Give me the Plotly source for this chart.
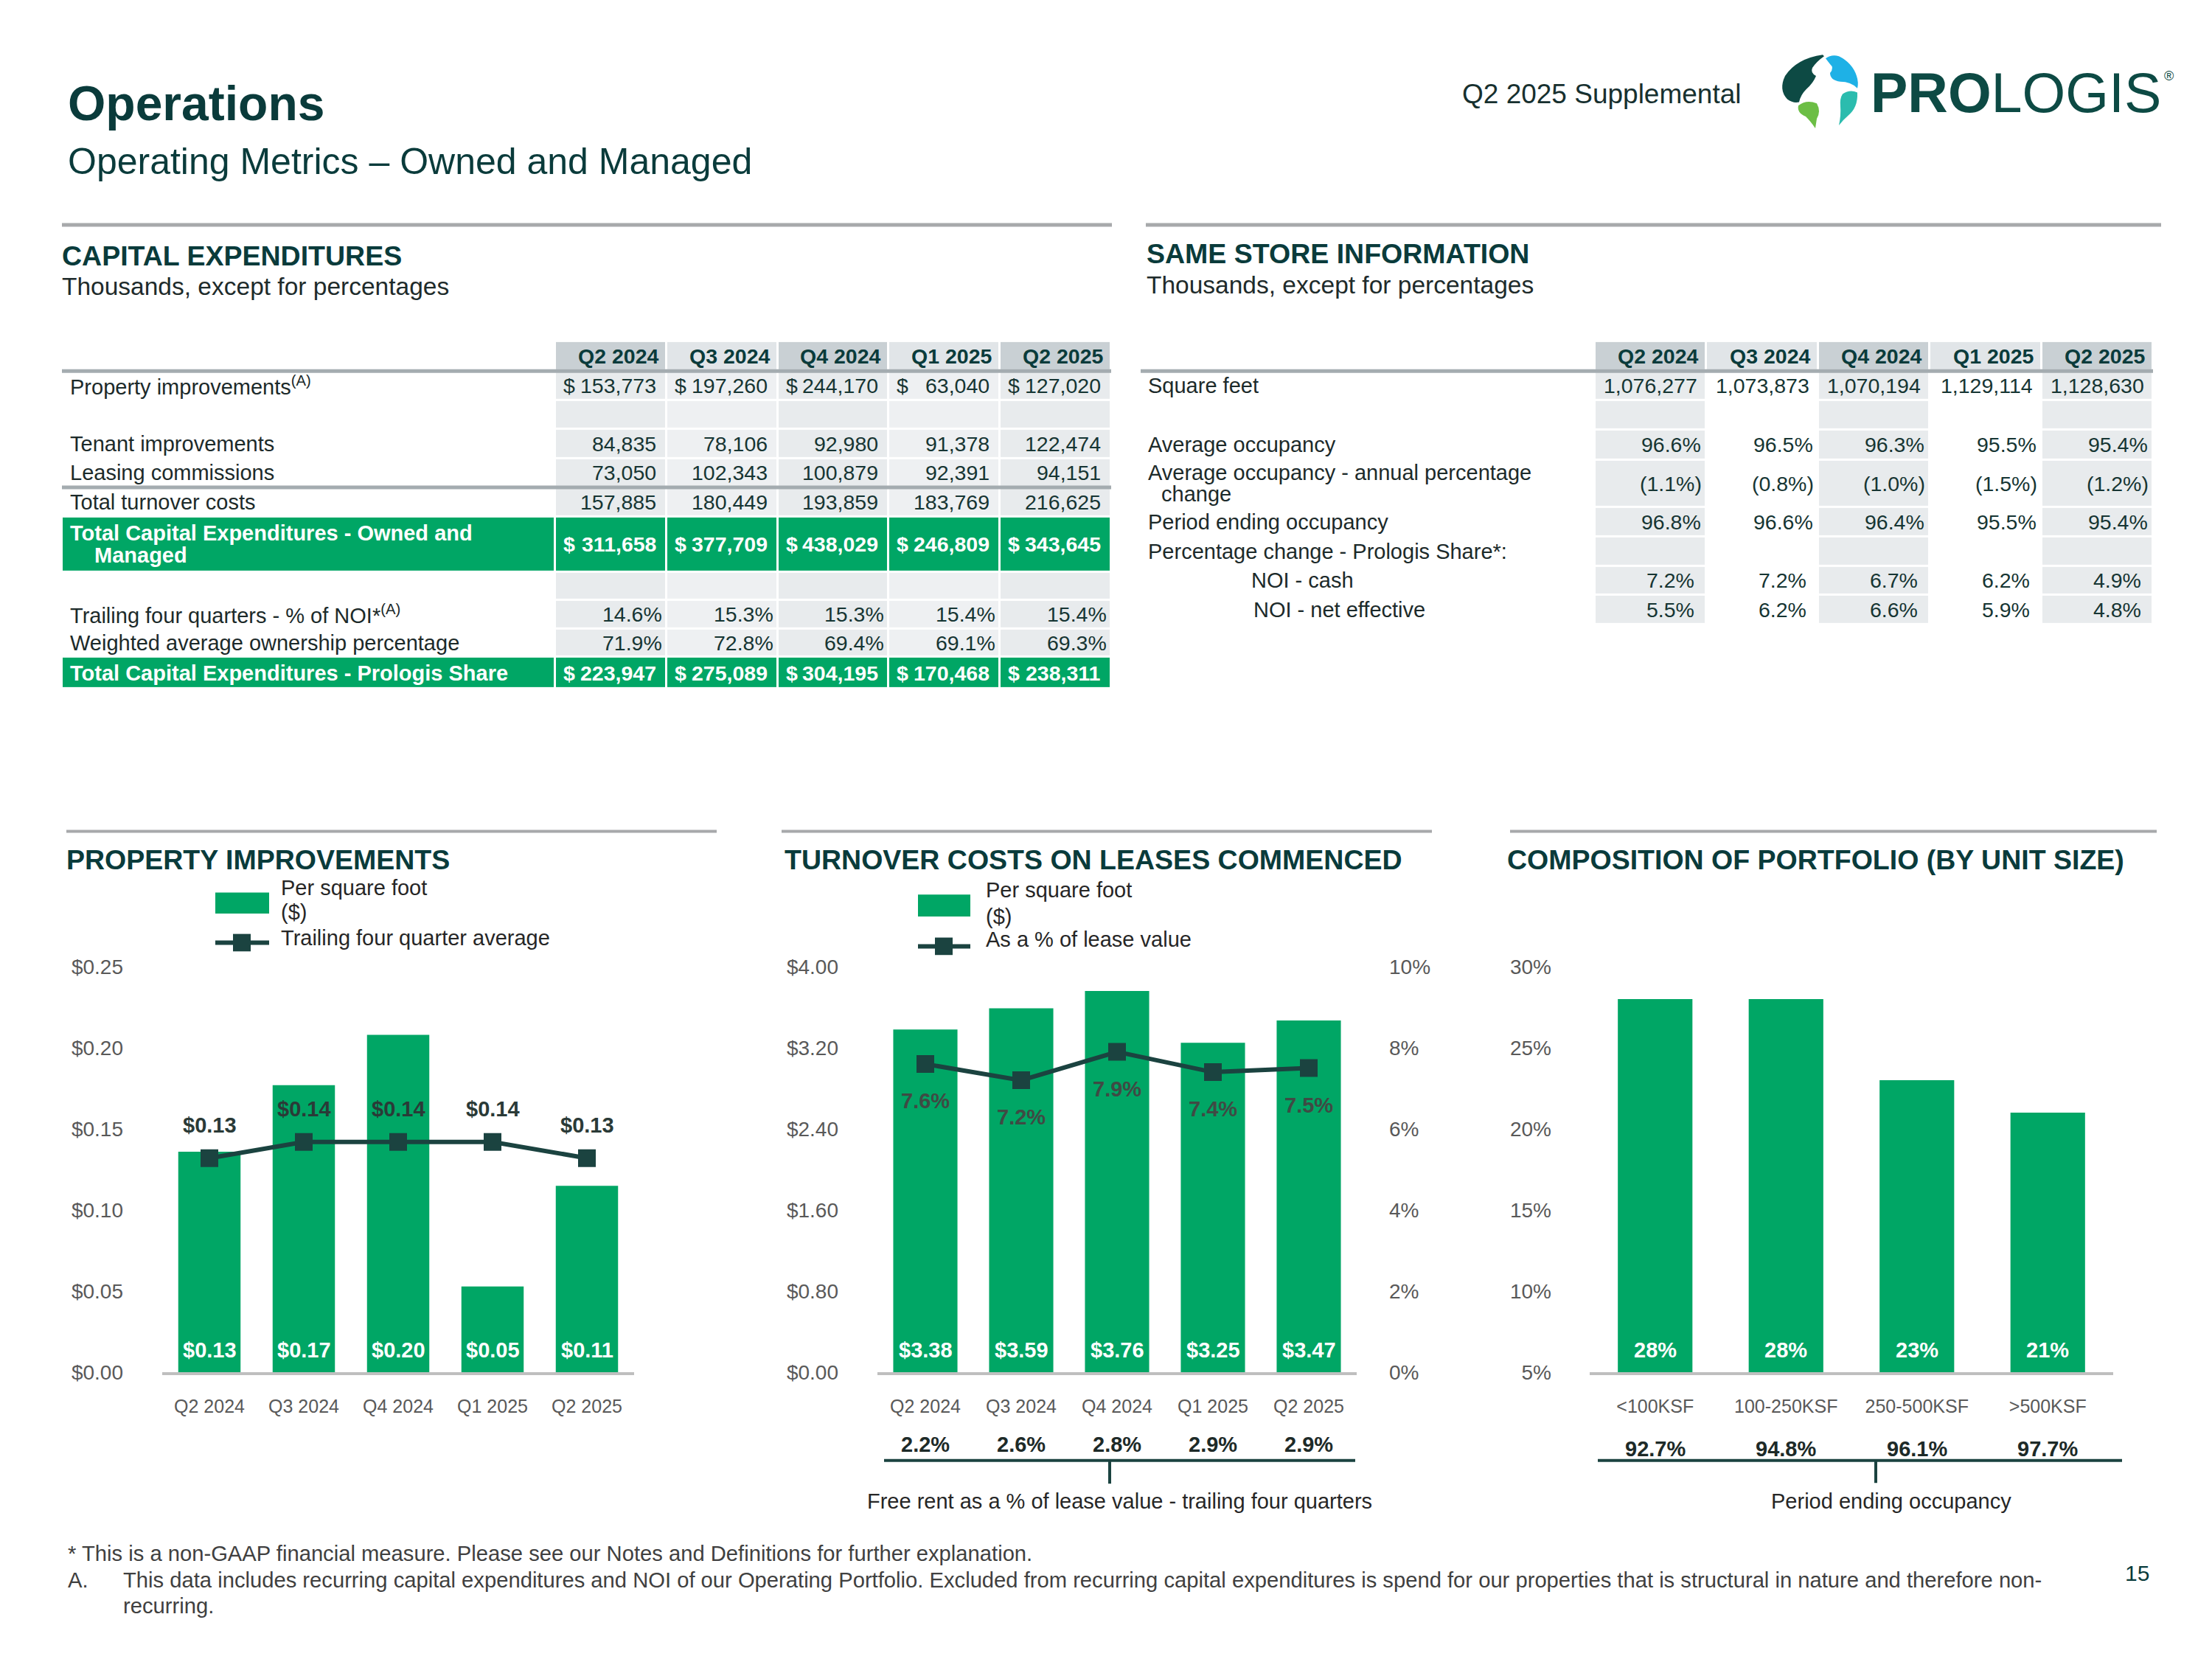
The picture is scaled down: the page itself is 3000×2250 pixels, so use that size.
import math
import plotly.graph_objects as go

# ------------------------------------------------------------------ data
quarters = ["Q2 2024", "Q3 2024", "Q4 2024", "Q1 2025", "Q2 2025"]

# Capital expenditures (thousands)
property_improvements = [153773, 197260, 244170, 63040, 127020]
tenant_improvements = [84835, 78106, 92980, 91378, 122474]
leasing_commissions = [73050, 102343, 100879, 92391, 94151]
total_turnover_costs = [157885, 180449, 193859, 183769, 216625]
total_capex_owned_managed = [311658, 377709, 438029, 246809, 343645]
trailing_pct_noi = [14.6, 15.3, 15.3, 15.4, 15.4]
weighted_avg_ownership = [71.9, 72.8, 69.4, 69.1, 69.3]
total_capex_prologis_share = [223947, 275089, 304195, 170468, 238311]

# Same store information
square_feet = [1076277, 1073873, 1070194, 1129114, 1128630]
average_occupancy = [96.6, 96.5, 96.3, 95.5, 95.4]
avg_occupancy_annual_change = [-1.1, -0.8, -1.0, -1.5, -1.2]
period_ending_occupancy = [96.8, 96.6, 96.4, 95.5, 95.4]
noi_cash_change = [7.2, 7.2, 6.7, 6.2, 4.9]
noi_net_effective_change = [5.5, 6.2, 6.6, 5.9, 4.8]

# Property improvements chart
pi_per_sf = [0.136, 0.177, 0.208, 0.053, 0.115]
pi_trailing_avg = [0.132, 0.142, 0.142, 0.142, 0.132]

# Turnover costs chart
turnover_per_sf = [3.38, 3.59, 3.76, 3.25, 3.47]
turnover_pct_lease_value = [7.6, 7.2, 7.9, 7.4, 7.5]
free_rent_pct = [2.2, 2.6, 2.8, 2.9, 2.9]

# Composition of portfolio chart
unit_sizes = ["<100KSF", "100-250KSF", "250-500KSF", ">500KSF"]
portfolio_share = [28, 28, 23, 21]
unit_occupancy = [92.7, 94.8, 96.1, 97.7]

# ------------------------------------------------------------------ style
W, H = 3000, 2250
PAGE_OFFSET = 8          # the page body margin the browser adds round the figure
FONT = "Liberation Sans, Arial, Helvetica, sans-serif"
GREEN = "#00a665"
DARK = "#1b4340"
TEAL = "#0a3b3b"
AXIS_TXT = "#595959"
BODY_TXT = "#163533"
LABEL_TXT = "#1c2a2a"
NOTE_TXT = "#404040"
RULE = "#a7a9ab"


def px(x):
    return (x - PAGE_OFFSET) / W


def py(y):
    return 1 - (y - PAGE_OFFSET) / H


annotations = []
shapes = []


def A(text, x, y, size, color, xref="paper", yref="paper", xanchor="left",
      yanchor="middle", align="left", **kw):
    if xref == "paper":
        x = px(x)
    if yref == "paper":
        y = py(y)
    annotations.append(dict(text=text, x=x, y=y, xref=xref, yref=yref,
                            xanchor=xanchor, yanchor=yanchor, align=align,
                            showarrow=False,
                            font=dict(family=FONT, size=size, color=color), **kw))


def hline(x0, x1, y, color, width):
    shapes.append(dict(type="line", xref="paper", yref="paper", x0=px(x0), x1=px(x1),
                       y0=py(y), y1=py(y), line=dict(color=color, width=width)))


def vline(x, y0, y1, color, width):
    shapes.append(dict(type="line", xref="paper", yref="paper", x0=px(x), x1=px(x),
                       y0=py(y0), y1=py(y1), line=dict(color=color, width=width)))


def rect(x0, x1, y0, y1, color):
    shapes.append(dict(type="rect", xref="paper", yref="paper", x0=px(x0), x1=px(x1),
                       y0=py(y1), y1=py(y0), fillcolor=color, line=dict(width=0)))


def path(cmds, color, dx=0, dy=0):
    s = ""
    for c, pts in cmds:
        s += c
        s += " ".join(f"{px(x + dx):.6f},{py(y + dy):.6f}" for x, y in pts) + " "
    s += "Z"
    shapes.append(dict(type="path", xref="paper", yref="paper", path=s,
                       fillcolor=color, line=dict(width=0)))


def fmt_int(v):
    return f"{v:,}"


def fmt_pct(v):
    return f"({abs(v):.1f}%)" if v < 0 else f"{v:.1f}%"


def trunc2(v):
    return math.floor(v * 100 + 1e-9) / 100


fig = go.Figure()
layout_axes = {}

# ------------------------------------------------------------------ tables
NUM_SIZE = 28.5
LAB_SIZE = 29
LINE_GAP = 30
TABLE_TOP = 454
SHADES = ["#e8ebed", "#eef0f2", "#c9d0d4", "#e1e5e8", GREEN]
colorscale = []
for i, c in enumerate(SHADES):
    colorscale.append([max(0, (i - 0.5) / 4), c])
    colorscale.append([min(1, (i + 0.5) / 4), c])


def build_table(xa, ya, left, top, label_w, col_w, header_h, rows, shade, rule_rows, lpad):
    heights = [header_h] + [r["h"] for r in rows]
    edges = [0]
    for h in heights:
        edges.append(edges[-1] + h)
    total_h = edges[-1]
    ncol = len(quarters)
    total_w = label_w + col_w * ncol
    x_edges = [0, label_w] + [label_w + col_w * (i + 1) for i in range(ncol)]

    z = [[None] + [2 if i % 2 == 0 else 3 for i in range(ncol)]]
    for r in rows:
        if r["kind"] == "green":
            z.append([4] * (ncol + 1))
        else:
            z.append([None] + [shade[i] for i in range(ncol)])
    fig.add_trace(go.Heatmap(x=x_edges, y=edges, z=z, xaxis=xa, yaxis=ya,
                             colorscale=colorscale, zmin=0, zmax=4, showscale=False,
                             xgap=3, ygap=3, hoverinfo="skip"))
    xk = "xaxis" + xa[1:]
    yk = "yaxis" + ya[1:]
    layout_axes[xk] = dict(domain=[px(left), px(left + total_w)], range=[0, total_w],
                           visible=False, fixedrange=True, anchor=ya)
    layout_axes[yk] = dict(domain=[py(top + total_h), py(top)], range=[total_h, 0],
                           visible=False, fixedrange=True, anchor=xa)

    # header text
    hc = (edges[0] + edges[1]) / 2
    for i, q in enumerate(quarters):
        A(f"<b>{q}</b>", x_edges[i + 2] - 9, hc, NUM_SIZE, TEAL, xref=xa, yref=ya,
          xanchor="right")
    # body text
    for ri, r in enumerate(rows):
        yc = (edges[ri + 1] + edges[ri + 2]) / 2
        green = r["kind"] == "green"
        col = "white" if green else LABEL_TXT
        lines = r.get("label") or []
        n = len(lines)
        for li, (txt, ind) in enumerate(lines):
            lab = f"<b>{txt}</b>" if green else txt
            A(lab, lpad + ind, yc + (li - (n - 1) / 2) * LINE_GAP,
              LAB_SIZE, col, xref=xa, yref=ya, xanchor="left")
        if r.get("vals") is None:
            continue
        for i, v in enumerate(r["vals"]):
            txt = f"<b>{v}</b>" if green else v
            A(txt, x_edges[i + 2] - r["rpad"], yc, NUM_SIZE,
              "white" if green else BODY_TXT, xref=xa, yref=ya, xanchor="right")
            if r.get("dollar"):
                A("<b>$</b>" if green else "$", x_edges[i + 1] + 9, yc, NUM_SIZE,
                  "white" if green else BODY_TXT, xref=xa, yref=ya, xanchor="left")
    for ri in rule_rows:
        shapes.append(dict(type="line", xref=xa, yref=ya, x0=0, x1=total_w,
                           y0=edges[ri], y1=edges[ri],
                           line=dict(color="#a4acb0", width=5)))


capex_rows = [
    dict(label=[("Property improvements<sup>(A)</sup>", 0)], vals=[fmt_int(v) for v in property_improvements],
         kind="num", h=40, rpad=12, dollar=True),
    dict(label=None, vals=None, kind="spacer", h=40),
    dict(label=[("Tenant improvements", 0)], vals=[fmt_int(v) for v in tenant_improvements],
         kind="num", h=40, rpad=12),
    dict(label=[("Leasing commissions", 0)], vals=[fmt_int(v) for v in leasing_commissions],
         kind="num", h=40, rpad=12),
    dict(label=[("Total turnover costs", 0)], vals=[fmt_int(v) for v in total_turnover_costs],
         kind="num", h=40, rpad=12),
    dict(label=[("Total Capital Expenditures - Owned and", 0), ("Managed", 33)],
         vals=[fmt_int(v) for v in total_capex_owned_managed], kind="green", h=76, rpad=12, dollar=True),
    dict(label=None, vals=None, kind="spacer", h=39),
    dict(label=[("Trailing four quarters - % of NOI*<sup>(A)</sup>", 0)],
         vals=[fmt_pct(v) for v in trailing_pct_noi], kind="num", h=39, rpad=4),
    dict(label=[("Weighted average ownership percentage", 0)],
         vals=[fmt_pct(v) for v in weighted_avg_ownership], kind="num", h=39, rpad=4),
    dict(label=[("Total Capital Expenditures - Prologis Share", 0)],
         vals=[fmt_int(v) for v in total_capex_prologis_share], kind="green", h=44, rpad=12, dollar=True),
]
build_table("x4", "y5", 84, TABLE_TOP, 669, 150.8, 41, capex_rows, [0, 1, 0, 1, 0], [1, 5], 9)

ss_rows = [
    dict(label=[("Square feet", 0)], vals=[fmt_int(v) for v in square_feet], kind="num", h=40, rpad=10),
    dict(label=None, vals=None, kind="spacer", h=41),
    dict(label=[("Average occupancy", 0)], vals=[fmt_pct(v) for v in average_occupancy],
         kind="num", h=41, rpad=5),
    dict(label=[("Average occupancy - annual percentage", 0), ("change", 18)],
         vals=[fmt_pct(v) for v in avg_occupancy_annual_change], kind="num", h=65, rpad=4),
    dict(label=[("Period ending occupancy", 0)], vals=[fmt_pct(v) for v in period_ending_occupancy],
         kind="num", h=41, rpad=5),
    dict(label=[("Percentage change - Prologis Share*:", 0)], vals=None, kind="spacer", h=40),
    dict(label=[("NOI - cash", 140)], vals=[fmt_pct(v) for v in noi_cash_change],
         kind="num", h=40, rpad=14),
    dict(label=[("NOI - net effective", 143)], vals=[fmt_pct(v) for v in noi_net_effective_change],
         kind="num", h=40, rpad=14),
]
build_table("x5", "y6", 1547, TABLE_TOP, 616, 151.4, 41, ss_rows, [0, None, 0, None, 0], [1], 8)

# ------------------------------------------------------------------ chart 1: property improvements
fig.add_trace(go.Bar(x=quarters, y=pi_per_sf, width=0.66, marker=dict(color=GREEN, line=dict(width=0)),
                     xaxis="x", yaxis="y", hoverinfo="skip"))
fig.add_trace(go.Scatter(x=quarters, y=pi_trailing_avg, mode="lines+markers",
                         line=dict(color=DARK, width=6),
                         marker=dict(symbol="square", size=24, color=DARK),
                         xaxis="x", yaxis="y", hoverinfo="skip"))
for q, v in zip(quarters, pi_per_sf):
    A(f"<b>${trunc2(v):.2f}</b>", q, 0, 29, "white", xref="x", yref="y",
      xanchor="center", yanchor="bottom", yshift=12)
for q, v in zip(quarters, pi_trailing_avg):
    A(f"<b>${trunc2(v):.2f}</b>", q, v, 29, "#2a3a37", xref="x", yref="y",
      xanchor="center", yanchor="middle", yshift=45)

# ------------------------------------------------------------------ chart 2: turnover costs
fig.add_trace(go.Bar(x=quarters, y=turnover_per_sf, width=0.67, marker=dict(color=GREEN, line=dict(width=0)),
                     xaxis="x2", yaxis="y2", hoverinfo="skip"))
fig.add_trace(go.Scatter(x=quarters, y=turnover_pct_lease_value, mode="lines+markers",
                         line=dict(color=DARK, width=6),
                         marker=dict(symbol="square", size=24, color=DARK),
                         xaxis="x2", yaxis="y3", hoverinfo="skip"))
for q, v in zip(quarters, turnover_per_sf):
    A(f"<b>${v:.2f}</b>", q, 0, 29, "white", xref="x2", yref="y2",
      xanchor="center", yanchor="bottom", yshift=12)
for q, v in zip(quarters, turnover_pct_lease_value):
    A(f"<b>{v:.1f}%</b>", q, v, 29, "#3f4a44", xref="x2", yref="y3",
      xanchor="center", yanchor="middle", yshift=-50)
for q, v in zip(quarters, free_rent_pct):
    A(f"<b>{v:.1f}%</b>", q, 1971, 29, "#1d2a28", xref="x2", yref="paper", xanchor="center")

# ------------------------------------------------------------------ chart 3: composition
COMP_MIN = 5
fig.add_trace(go.Bar(x=unit_sizes, y=portfolio_share, width=0.57, marker=dict(color=GREEN, line=dict(width=0)),
                     xaxis="x3", yaxis="y4", hoverinfo="skip"))
for c, v in zip(unit_sizes, portfolio_share):
    A(f"<b>{v}%</b>", c, COMP_MIN, 29, "white", xref="x3", yref="y4",
      xanchor="center", yanchor="bottom", yshift=12)
for c, v in zip(unit_sizes, unit_occupancy):
    A(f"<b>{v:.1f}%</b>", c, 1977, 29, "#1d2a28", xref="x3", yref="paper", xanchor="center")

# ------------------------------------------------------------------ axes
xcommon = dict(type="category", showline=True, linecolor="#bfbfbf", linewidth=4, ticks="",
               tickfont=dict(family=FONT, size=25, color=AXIS_TXT), showgrid=False,
               zeroline=False, ticklabelstandoff=21, fixedrange=True)
ycommon = dict(showgrid=False, zeroline=False, showline=False, ticks="",
               tickfont=dict(family=FONT, size=28, color=AXIS_TXT), fixedrange=True)
PLOT_TOP, PLOT_BOT = 1314, 1872
layout_axes.update(
    xaxis=dict(domain=[px(220), px(860)], anchor="y", **xcommon),
    yaxis=dict(domain=[py(PLOT_BOT), py(PLOT_TOP)], anchor="x", range=[0, 0.25], dtick=0.05,
               tickprefix="$", tickformat=".2f", ticklabelstandoff=52, **ycommon),
    xaxis2=dict(domain=[px(1190), px(1840)], anchor="y2", **xcommon),
    yaxis2=dict(domain=[py(PLOT_BOT), py(PLOT_TOP)], anchor="x2", range=[0, 4], dtick=0.8,
                tickprefix="$", tickformat=".2f", ticklabelstandoff=52, **ycommon),
    yaxis3=dict(overlaying="y2", anchor="x2", side="right", range=[0, 10], dtick=2,
                ticksuffix="%", ticklabelstandoff=43, **ycommon),
    xaxis3=dict(domain=[px(2156), px(2866)], anchor="y4", **xcommon),
    yaxis4=dict(domain=[py(PLOT_BOT), py(PLOT_TOP)], anchor="x3", range=[COMP_MIN, 30], dtick=5,
                ticksuffix="%", ticklabelstandoff=51, **ycommon),
)

# ------------------------------------------------------------------ page text & decoration
A("<b>Operations</b>", 90, 127, 66, TEAL)
A("Operating Metrics \u2013 Owned and Managed", 90, 207, 50, TEAL)
A("Q2 2025 Supplemental", 2364, 114, 37, "#17302f", xanchor="right")
A("<b>PRO</b>LOGIS", 2535, 112, 75.5, "#0d4a44")
A("\u00ae", 2941, 89, 18, "#0d4a44", xanchor="center")

# logo mark
LDX, LDY = 12, -7
path([("M", [(2460, 67)]), ("Q", [(2425, 72), (2409, 96)]), ("Q", [(2400, 115), (2412, 128)]),
      ("Q", [(2420, 134), (2428, 132)]), ("Q", [(2430, 122), (2438, 114)]),
      ("Q", [(2447, 106), (2451, 96)]), ("Q", [(2443, 92), (2446, 85)]),
      ("Q", [(2452, 76), (2462, 69)])], "#0d4a44", LDX, LDY)
path([("M", [(2464, 72)]), ("Q", [(2472, 66), (2482, 69)]), ("Q", [(2500, 78), (2506, 96)]),
      ("Q", [(2509, 105), (2507, 113)]), ("Q", [(2498, 104), (2484, 104)]),
      ("Q", [(2470, 102), (2470, 92)]), ("Q", [(2476, 85), (2470, 80)])], "#1eb1e6", LDX, LDY)
path([("M", [(2487, 121)]), ("Q", [(2497, 114), (2507, 119)]), ("Q", [(2508, 140), (2494, 151)]),
      ("Q", [(2487, 157), (2482, 164)]), ("Q", [(2485, 150), (2484, 138)]),
      ("Q", [(2483, 127), (2487, 121)])], "#2bbcae", LDX, LDY)
path([("M", [(2427, 137)]), ("Q", [(2438, 128), (2452, 134)]), ("Q", [(2458, 145), (2452, 155)]),
      ("Q", [(2451, 162), (2450, 168)]), ("Q", [(2443, 158), (2437, 152)]),
      ("Q", [(2425, 147), (2427, 137)])], "#6cbe45", LDX, LDY)

# section rules and titles (tables)
hline(84, 1508, 294, RULE, 5)
hline(1554, 2931, 294, RULE, 5)
A("<b>CAPITAL EXPENDITURES</b>", 82, 337, 37.5, TEAL)
A("Thousands, except for percentages", 82, 379, 33.5, "#1e2b2b")
A("<b>SAME STORE INFORMATION</b>", 1553, 333, 37.5, TEAL)
A("Thousands, except for percentages", 1553, 377, 33.5, "#1e2b2b")

# chart rules and titles
hline(90, 972, 1128, RULE, 4)
hline(1060, 1942, 1128, RULE, 4)
hline(2048, 2925, 1128, RULE, 4)
A("<b>PROPERTY IMPROVEMENTS</b>", 88, 1167, 37.5, TEAL)
A("<b>TURNOVER COSTS ON LEASES COMMENCED</b>", 1062, 1167, 37.5, TEAL)
A("<b>COMPOSITION OF PORTFOLIO (BY UNIT SIZE)</b>", 2042, 1167, 37.5, TEAL)

# legends (manual)
LEG_TXT = "#262626"
LY = 1
rect(292, 365, 1211 + LY, 1240 + LY, GREEN)
hline(292, 365, 1280 + LY, DARK, 6)
rect(316, 340, 1268 + LY, 1292 + LY, DARK)
A("Per square foot", 379, 1205 + LY, 29, LEG_TXT)
A("($)", 379, 1238 + LY, 29, LEG_TXT)
A("Trailing four quarter average", 379, 1273 + LY, 29, LEG_TXT)

rect(1245, 1316, 1214 + LY, 1244 + LY, GREEN)
hline(1245, 1316, 1285 + LY, DARK, 6)
rect(1268, 1292, 1273 + LY, 1297 + LY, DARK)
A("Per square foot", 1335, 1208 + LY, 29, LEG_TXT)
A("($)", 1335, 1244 + LY, 29, LEG_TXT)
A("As a % of lease value", 1335, 1275 + LY, 29, LEG_TXT)

# brackets under charts
hline(1199, 1838, 1993, DARK, 4)
vline(1505, 1993, 2025, DARK, 4)
A("Free rent as a % of lease value - trailing four quarters", 1518, 2049, 29, LEG_TXT, xanchor="center")
hline(2167, 2878, 1993, DARK, 4)
vline(2544, 1993, 2024, DARK, 4)
A("Period ending occupancy", 2565, 2049, 29, LEG_TXT, xanchor="center")

# footnotes
A("* This is a non-GAAP financial measure. Please see our Notes and Definitions for further explanation.",
  90, 2121, 29.2, NOTE_TXT)
A("A.", 90, 2158, 29.2, NOTE_TXT)
A("This data includes recurring capital expenditures and NOI of our Operating Portfolio. Excluded from "
  "recurring capital expenditures is spend for our properties that is structural in nature and therefore non-",
  165, 2158, 29.2, NOTE_TXT)
A("recurring.", 165, 2193, 29.2, NOTE_TXT)
A("15", 2898, 2148, 30, TEAL, xanchor="center")

fig.update_layout(
    width=W, height=H, margin=dict(l=0, r=0, t=0, b=0),
    paper_bgcolor="white", plot_bgcolor="rgba(0,0,0,0)",
    showlegend=False, hovermode=False,
    font=dict(family=FONT, color=LABEL_TXT),
    annotations=annotations, shapes=shapes,
    **layout_axes,
)

fig.write_html("out.html")
